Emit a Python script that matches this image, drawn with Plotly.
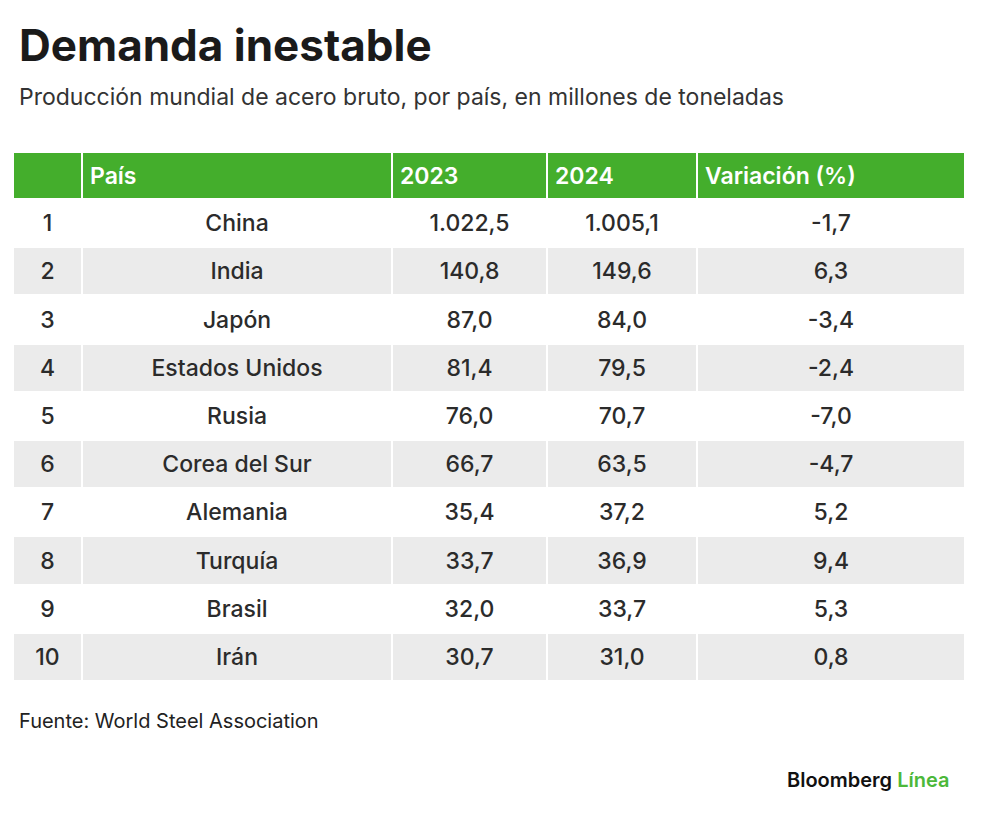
import plotly.graph_objects as go

ranks = [1, 2, 3, 4, 5, 6, 7, 8, 9, 10]
countries = ["China", "India", "Japón", "Estados Unidos", "Rusia", "Corea del Sur",
             "Alemania", "Turquía", "Brasil", "Irán"]
prod_2023 = [1022.5, 140.8, 87.0, 81.4, 76.0, 66.7, 35.4, 33.7, 32.0, 30.7]
prod_2024 = [1005.1, 149.6, 84.0, 79.5, 70.7, 63.5, 37.2, 36.9, 33.7, 31.0]
variation = [-1.7, 6.3, -3.4, -2.4, -7.0, -4.7, 5.2, 9.4, 5.3, 0.8]
headers = ["", "País", "2023", "2024", "Variación (%)"]


def es_fmt(v):
    s = f"{v:,.1f}"
    return s.replace(",", "X").replace(".", ",").replace("X", ".")


GREEN = "#44ae2c"
GRAY = "#ebebeb"
TEXT = "#2b2b2b"
W, H = 1000, 830
OX, OY = 8, 8  # page body margin offset
TEXT_SHIFT = 7  # px: text sits lower in the reference cells


def px(x):
    return (x - OX) / W


def py(y):
    return 1 - (y - OY) / H


row_colors = ["#ffffff" if i % 2 == 0 else GRAY for i in range(len(ranks))]
col_widths = [69, 310, 155, 150, 268]
cell_values = [[str(r) for r in ranks], countries,
               [es_fmt(v) for v in prod_2023],
               [es_fmt(v) for v in prod_2024],
               [es_fmt(v) for v in variation]]
blank_values = [[""] * len(ranks) for _ in range(5)]

fig = go.Figure()

# background table: fills and white cell borders
fig.add_trace(go.Table(
    domain=dict(x=[px(13), px(965)], y=[py(700), py(152)]),
    columnwidth=col_widths,
    header=dict(values=[""] * 5, fill_color=GREEN,
                line=dict(color="white", width=2), height=47),
    cells=dict(values=blank_values, fill_color=[row_colors] * 5,
               line=dict(color="white", width=2), height=48.2),
))

# text table: same geometry, shifted down so text is vertically centred
fig.add_trace(go.Table(
    domain=dict(x=[px(13), px(965)], y=[py(700 + TEXT_SHIFT), py(152 + TEXT_SHIFT)]),
    columnwidth=col_widths,
    header=dict(
        values=headers,
        fill_color="rgba(0,0,0,0)",
        line=dict(color="rgba(0,0,0,0)", width=2),
        align="left",
        height=47,
        font=dict(family="Inter", size=23, color="white", weight=600),
    ),
    cells=dict(
        values=cell_values,
        fill_color="rgba(0,0,0,0)",
        line=dict(color="rgba(0,0,0,0)", width=2),
        align="center",
        height=48.2,
        font=dict(family="Inter", size=23, color=TEXT, weight=500),
    ),
))

fig.add_annotation(text="<b>Demanda inestable</b>", x=px(17), y=py(45),
                   xref="paper", yref="paper", xanchor="left", yanchor="middle",
                   showarrow=False, font=dict(family="Inter", size=44, color="#1a1a1a"))
fig.add_annotation(text="Producción mundial de acero bruto, por país, en millones de toneladas",
                   x=px(17), y=py(97), xref="paper", yref="paper",
                   xanchor="left", yanchor="middle", showarrow=False,
                   font=dict(family="Inter", size=23, color="#333333"))
fig.add_annotation(text="Fuente: World Steel Association", x=px(17), y=py(721),
                   xref="paper", yref="paper", xanchor="left", yanchor="middle",
                   showarrow=False, font=dict(family="Inter", size=20, color="#222222"))
fig.add_annotation(text="Bloomberg <span style='color:#4cb83a'>Línea</span>",
                   x=px(951), y=py(780), xref="paper", yref="paper",
                   xanchor="right", yanchor="middle", showarrow=False,
                   font=dict(family="Inter", size=20, color="#111111", weight=600))

fig.update_layout(width=W, height=H, margin=dict(l=0, r=0, t=0, b=0),
                  paper_bgcolor="white", plot_bgcolor="white")

fig.write_html("out.html")
